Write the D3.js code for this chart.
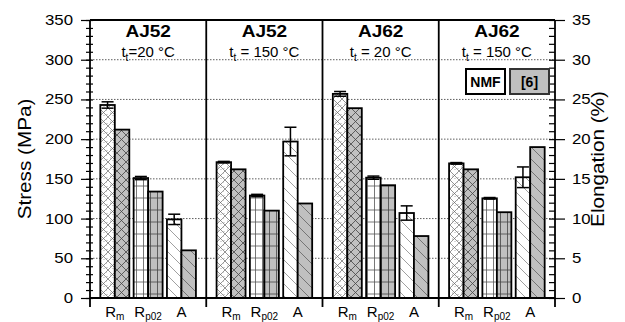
<!DOCTYPE html>
<html>
<head>
<meta charset="utf-8">
<script src="https://cdn.jsdelivr.net/npm/d3@7"></script>
<style>
  body { margin: 0; background: #fff; }
  text { font-family: "Liberation Sans", Arial, sans-serif; fill: #000; }
</style>
</head>
<body>
<div id="chart"></div>
<script>
// Panels (alloy + test temperature)
const alloys = ["AJ52", "AJ52", "AJ62", "AJ62"];
const temps = ["=20 °C", " = 150 °C", " = 20 °C", " = 150 °C"];
const categories = ["Rm", "Rp02", "A"];
const series = ["NMF", "[6]"];

// Rm, Rp02 in MPa, A in %
const nmfValues = [[243, 151, 9.9], [171, 129, 19.7], [257, 151.5, 10.7], [169.5, 125.5, 15.2]];
const nmfErrors = [[4, 2, 0.65], [1, 1.5, 1.8], [3, 2, 0.9], [1, 1, 1.3]];
const refValues = [[212, 134, 6.0], [162, 110, 11.9], [239, 142, 7.8], [162, 108, 19.0]];

const stressTicks = [0, 50, 100, 150, 200, 250, 300, 350];
const stressMinor = d3.range(0, 351, 10);
const elongTicks = [0, 5, 10, 15, 20, 25, 30, 35];
const elongMinor = d3.range(0, 36, 1);
const gridValues = [50, 100, 150, 200, 250, 300];

const width = 625, height = 322;
const margin = {top: 20, right: 70, bottom: 24, left: 90};
const plotBottom = height - margin.bottom;

const svg = d3.select("#chart").append("svg")
    .attr("width", width)
    .attr("height", height);

// stretch text a bit wider, the source font is wide
function widen(sel, k) {
    sel.each(function() {
        const w = this.getComputedTextLength();
        d3.select(this).attr("textLength", w * k).attr("lengthAdjust", "spacingAndGlyphs");
    });
}

// Scales
const y = d3.scaleLinear().domain([0, 350]).range([plotBottom, margin.top]);
const y2 = d3.scaleLinear().domain([0, 35]).range([plotBottom, margin.top]);
const x0 = d3.scaleBand().domain(d3.range(alloys.length)).range([margin.left, width - margin.right]);
const x1 = d3.scaleBand().domain(categories).range([0, x0.bandwidth()])
    .paddingInner(0.13).paddingOuter(0.31);
const x2 = d3.scaleBand().domain(series).range([0, x1.bandwidth()]);

// Hatch patterns
const defs = svg.append("defs");
function pattern(id, w, h, bg, paths, stroke, sw) {
    const p = defs.append("pattern").attr("id", id)
        .attr("patternUnits", "userSpaceOnUse")
        .attr("width", w).attr("height", h);
    p.append("rect").attr("width", w).attr("height", h).attr("fill", bg);
    p.append("path").attr("d", paths).attr("stroke", stroke)
        .attr("stroke-width", sw).attr("fill", "none");
    return p;
}
const gray = "#c0c0c0";
const cross = "M0,0L9,9M9,0L0,9";
const rmN = pattern("rm-nmf", 9, 9, "#fff", cross, "#666", 0.7);
rmN.selectAll("circle").data([[2, 4.5], [6.5, 2], [4.5, 7], [7.5, 6]]).enter()
    .append("rect").attr("x", d => d[0]).attr("y", d => d[1])
    .attr("width", 1).attr("height", 1).attr("fill", "#aaa");
pattern("rm-ref", 9, 9, gray, cross, "#444", 0.8);
pattern("rp-nmf", 7, 12, "#fff", "M0,6H7M3.5,0V12", "#555", 0.8);
pattern("rp-ref", 7, 12, gray, "M0,6H7M3.5,0V12", "#444", 0.8);
pattern("a-nmf", 12, 12, "#fff", "M0,0L12,12M-6,6L6,18M6,-6L18,6", "#777", 0.7);
pattern("a-ref", 12, 12, gray, "M0,0L12,12M-6,6L6,18M6,-6L18,6", "#555", 0.7);
const patternIds = {Rm: "rm", Rp02: "rp", A: "a"};

// Gridlines
svg.append("g").selectAll("line").data(gridValues).enter().append("line")
    .attr("x1", margin.left).attr("x2", width - margin.right)
    .attr("y1", d => y(d)).attr("y2", d => y(d))
    .attr("stroke", "#333").attr("stroke-width", 0.8)
    .attr("stroke-dasharray", "1.5,1.5");

// Bars
const rows = [];
alloys.forEach((a, p) => {
    categories.forEach((c, i) => {
        const sc = c === "A" ? y2 : y;
        rows.push({p, c, s: "NMF", v: nmfValues[p][i], e: nmfErrors[p][i], sc});
        rows.push({p, c, s: "[6]", v: refValues[p][i], e: 0, sc});
    });
});
const bx = d => x0(d.p) + x1(d.c) + x2(d.s);

svg.append("g").selectAll("rect").data(rows).enter().append("rect")
    .attr("x", bx)
    .attr("y", d => d.sc(d.v))
    .attr("width", x2.bandwidth())
    .attr("height", d => plotBottom - d.sc(d.v))
    .attr("fill", d => `url(#${patternIds[d.c]}-${d.s === "NMF" ? "nmf" : "ref"})`)
    .attr("stroke", "#000")
    .attr("stroke-width", 1.8);

// Error bars on NMF bars
const err = svg.append("g").selectAll("g").data(rows.filter(d => d.e > 0)).enter().append("g")
    .attr("stroke", "#000").attr("stroke-width", 1.5);
const cx = d => bx(d) + x2.bandwidth() / 2;
err.append("line").attr("x1", cx).attr("x2", cx)
    .attr("y1", d => d.sc(d.v - d.e)).attr("y2", d => d.sc(d.v + d.e));
err.append("line").attr("x1", d => cx(d) - 6).attr("x2", d => cx(d) + 6)
    .attr("y1", d => d.sc(d.v + d.e)).attr("y2", d => d.sc(d.v + d.e));
err.append("line").attr("x1", d => cx(d) - 6).attr("x2", d => cx(d) + 6)
    .attr("y1", d => d.sc(d.v - d.e)).attr("y2", d => d.sc(d.v - d.e));

// Frame: top line, bottom axis, panel separators
svg.append("line")
    .attr("x1", margin.left).attr("x2", width - margin.right)
    .attr("y1", margin.top).attr("y2", margin.top)
    .attr("stroke", "#000").attr("stroke-width", 1.8);
svg.append("line")
    .attr("x1", margin.left).attr("x2", width - margin.right)
    .attr("y1", plotBottom).attr("y2", plotBottom)
    .attr("stroke", "#000").attr("stroke-width", 2);
const seps = d3.range(alloys.length + 1).map(i => margin.left + i * x0.bandwidth());
svg.append("g").selectAll("line").data(seps).enter().append("line")
    .attr("x1", d => d).attr("x2", d => d)
    .attr("y1", margin.top).attr("y2", plotBottom + 9)
    .attr("stroke", "#000").attr("stroke-width", 1.8);

// Left axis
const leftMinor = svg.append("g").attr("transform", `translate(${margin.left},0)`)
    .call(d3.axisLeft(y).tickValues(stressMinor).tickSize(4).tickFormat(""));
const leftMinorIn = svg.append("g").attr("transform", `translate(${margin.left},0)`)
    .call(d3.axisRight(y).tickValues(stressMinor).tickSize(3).tickFormat(""));
const leftAxis = svg.append("g").attr("transform", `translate(${margin.left},0)`)
    .call(d3.axisLeft(y).tickValues(stressTicks).tickSize(9).tickPadding(8));
[leftMinor, leftMinorIn, leftAxis].forEach(g => {
    g.select(".domain").remove();
    g.selectAll("line").attr("stroke", "#000").attr("stroke-width", 1.2);
});
leftAxis.selectAll("text").attr("font-size", 14).attr("font-family", null).call(widen, 1.2);

// Right axis
const rx = width - margin.right;
const rightMinor = svg.append("g").attr("transform", `translate(${rx},0)`)
    .call(d3.axisLeft(y2).tickValues(elongMinor).tickSize(6).tickFormat(""));
const rightAxis = svg.append("g").attr("transform", `translate(${rx},0)`)
    .call(d3.axisRight(y2).tickValues(elongTicks).tickSize(10).tickPadding(7));
[rightMinor, rightAxis].forEach(g => {
    g.select(".domain").remove();
    g.selectAll("line").attr("stroke", "#000").attr("stroke-width", 1.2);
});
rightAxis.selectAll("text").attr("font-size", 14).attr("font-family", null).call(widen, 1.2);

// Category labels under each group
const catLabels = svg.append("g").selectAll("text")
    .data(alloys.flatMap((a, p) => categories.map(c => ({p, c}))))
    .enter().append("text")
    .attr("x", d => x0(d.p) + x1(d.c) + x1.bandwidth() / 2)
    .attr("y", plotBottom + 19)
    .attr("text-anchor", "middle")
    .attr("font-size", 15);
catLabels.append("tspan").text(d => d.c === "A" ? "A" : "R");
catLabels.filter(d => d.c !== "A").append("tspan")
    .attr("dy", 3).attr("font-size", 10)
    .text(d => d.c === "Rm" ? "m" : "p02");

// Panel titles
const titles = svg.append("g").selectAll("g").data(alloys).enter().append("g")
    .attr("transform", (d, i) => `translate(${x0(i) + x0.bandwidth() / 2},0)`);
titles.append("text")
    .attr("y", 37).attr("text-anchor", "middle")
    .attr("font-size", 17).attr("font-weight", "bold")
    .text(d => d).call(widen, 1.12);
const sub = titles.append("text")
    .attr("y", 57).attr("text-anchor", "middle")
    .attr("font-size", 15);
sub.append("tspan").text("t");
sub.append("tspan").attr("dy", 4).attr("font-size", 10).text("t");
sub.append("tspan").attr("dy", -4).text((d, i) => temps[i]);

// Legend
const legend = svg.append("g");
series.forEach((s, i) => {
    const lx = 466 + i * 44;
    legend.append("rect")
        .attr("x", lx).attr("y", 69).attr("width", 39).attr("height", 25)
        .attr("fill", i === 0 ? "#fff" : gray)
        .attr("stroke", i === 0 ? "#000" : "#333").attr("stroke-width", 2);
    legend.append("text")
        .attr("x", lx + 19.5).attr("y", 87).attr("text-anchor", "middle")
        .attr("font-size", 14).attr("font-weight", "bold")
        .text(s);
});

// Axis titles
svg.append("text")
    .attr("transform", `translate(31,${(margin.top + plotBottom) / 2}) rotate(-90)`)
    .attr("text-anchor", "middle")
    .attr("font-size", 18)
    .text("Stress (MPa)").call(widen, 1.15);
svg.append("text")
    .attr("transform", `translate(604,${(margin.top + plotBottom) / 2}) rotate(-90)`)
    .attr("text-anchor", "middle")
    .attr("font-size", 18)
    .text("Elongation (%)").call(widen, 1.15);
</script>
</body>
</html>
